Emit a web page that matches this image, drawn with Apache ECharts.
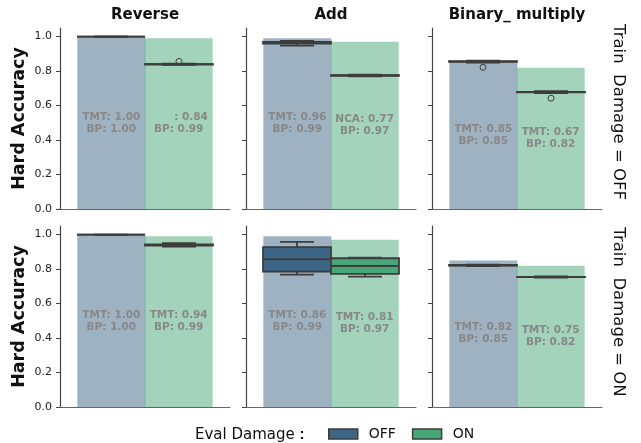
<!DOCTYPE html>
<html>
<head>
<meta charset="utf-8">
<script src="https://cdn.jsdelivr.net/npm/echarts@6/dist/echarts.min.js"></script>
<style>
html, body { margin: 0; padding: 0; background: #fff; }
#main { width: 641px; height: 443px; }
</style>
</head>
<body>
<div id="main"></div>
<script>
// columns / rows
const tasks = ['Reverse', 'Add', 'Binary_ multiply'];
const trainDamage = ['OFF', 'ON'];
const evalDamage = ['OFF', 'ON'];

// bar heights = BP, [row][task]
const bpOff = [[1.00, 0.99, 0.85], [1.00, 0.99, 0.85]];
const bpOn = [[0.99, 0.97, 0.82], [0.99, 0.97, 0.82]];
// first line of the annotation
const tmtOff = [[1.00, 0.96, 0.85], [1.00, 0.86, 0.82]];
const tmtOn = [[0.84, 0.77, 0.67], [0.94, 0.81, 0.75]];
const nameOn = [[null, 'NCA', 'TMT'], ['TMT', 'TMT', 'TMT']]; // null = label hidden

// boxplot stats [low, q1, median, q3, high]
const boxOff = [
  [[1.0, 1.0, 1.0, 1.0, 1.0], [0.948, 0.96, 0.965, 0.97, 0.975], [0.85, 0.853, 0.855, 0.857, 0.86]],
  [[0.999, 1.0, 1.0, 1.0, 1.0], [0.768, 0.785, 0.857, 0.927, 0.958], [0.818, 0.82, 0.822, 0.824, 0.826]]
];
const boxOn = [
  [[0.836, 0.838, 0.84, 0.841, 0.843], [0.77, 0.772, 0.775, 0.777, 0.779], [0.673, 0.676, 0.678, 0.68, 0.683]],
  [[0.93, 0.937, 0.94, 0.943, 0.95], [0.756, 0.772, 0.818, 0.863, 0.866], [0.751, 0.753, 0.754, 0.755, 0.757]]
];
const outOff = [[[], [], [0.822]], [[], [], []]];
const outOn = [[[0.856], [], [0.643]], [[], [], []]];

const yTicks = [0, 0.2, 0.4, 0.6, 0.8, 1.0];

const colOff = '#3d6585';
const colOn = '#47a776';
const edge = '#3d3d3d';
const lefts = [60, 246, 432];
const tops = [28, 226];
const W = 170, H = 181;

function boxRender(params, api) {
  const side = api.value(6);
  const bw = api.size([1, 0])[0];
  const hw = 0.2 * bw;
  const cx = api.coord([0, 0])[0] + side * hw;
  const y = k => api.coord([0, api.value(k)])[1];
  const lo = y(1), q1 = y(2), md = y(3), q3 = y(4), hi = y(5);
  const ls = { stroke: edge, lineWidth: 1.8 };
  return {
    type: 'group',
    children: [
      { type: 'line', shape: { x1: cx, y1: q3, x2: cx, y2: hi }, style: ls },
      { type: 'line', shape: { x1: cx, y1: q1, x2: cx, y2: lo }, style: ls },
      { type: 'line', shape: { x1: cx - hw / 2, y1: hi, x2: cx + hw / 2, y2: hi }, style: ls },
      { type: 'line', shape: { x1: cx - hw / 2, y1: lo, x2: cx + hw / 2, y2: lo }, style: ls },
      { type: 'rect', shape: { x: cx - hw, y: q3, width: 2 * hw, height: q1 - q3 },
        style: { fill: side < 0 ? colOff : colOn, stroke: edge, lineWidth: 1.8 } },
      { type: 'line', shape: { x1: cx - hw, y1: md, x2: cx + hw, y2: md }, style: ls }
    ]
  };
}

function outRender(params, api) {
  const bw = api.size([1, 0])[0];
  const p = api.coord([0, api.value(1)]);
  return {
    type: 'circle',
    shape: { cx: p[0] + api.value(2) * 0.2 * bw, cy: p[1], r: 3 },
    style: { fill: 'none', stroke: edge, lineWidth: 1 }
  };
}

const grid = [], xAxis = [], yAxis = [], series = [], graphic = [];
const labelStyle = {
  show: true, position: 'inside', color: '#888', fontWeight: 'bold', fontSize: 10.5,
  lineHeight: 12, fontFamily: 'DejaVu Sans',
  rich: { h: { color: 'rgba(0,0,0,0)', fontWeight: 'bold', fontSize: 10.5, lineHeight: 12 } }
};

trainDamage.forEach((td, r) => {
  tasks.forEach((task, c) => {
    const i = r * 3 + c;
    grid.push({ left: lefts[c], top: tops[r], width: W, height: H });
    xAxis.push({
      gridIndex: i, type: 'category', data: [''],
      axisLine: { lineStyle: { color: '#666', width: 1.2 } },
      axisTick: { alignWithLabel: true, length: 4, lineStyle: { color: '#444' } },
      axisLabel: { show: false }
    });
    yAxis.push({
      gridIndex: i, type: 'value', min: 0, max: 1.05,
      axisLine: { show: true, lineStyle: { color: '#444', width: 1.2 } },
      axisTick: { show: true, length: 4, customValues: yTicks, lineStyle: { color: '#444' } },
      axisLabel: { show: c === 0, customValues: yTicks, formatter: v => v.toFixed(1),
        fontSize: 11, color: '#222', margin: 8 },
      splitLine: { show: false },
      name: c === 0 ? 'Hard Accuracy' : '', nameLocation: 'middle', nameGap: 32,
      nameTextStyle: { fontSize: 17.5, fontWeight: 'bold', color: '#111' }
    });
    series.push({
      name: evalDamage[0], type: 'bar', xAxisIndex: i, yAxisIndex: i,
      data: [bpOff[r][c]], barWidth: '40%', barGap: '-1%',
      itemStyle: { color: 'rgba(61,101,133,0.5)' },
      label: Object.assign({}, labelStyle, {
        formatter: 'TMT: ' + tmtOff[r][c].toFixed(2) + '\nBP: ' + bpOff[r][c].toFixed(2)
      }),
      z: 1
    });
    const nm = nameOn[r][c];
    series.push({
      name: evalDamage[1], type: 'bar', xAxisIndex: i, yAxisIndex: i,
      data: [bpOn[r][c]], barWidth: '40%', barGap: '-1%',
      itemStyle: { color: 'rgba(71,167,118,0.5)' },
      label: Object.assign({}, labelStyle, {
        formatter: (nm === null ? '{h|TMT}' : nm) + ': ' + tmtOn[r][c].toFixed(2) +
          '\nBP: ' + bpOn[r][c].toFixed(2)
      }),
      z: 1
    });
    series.push({
      type: 'custom', xAxisIndex: i, yAxisIndex: i, renderItem: boxRender, z: 3,
      data: [[0].concat(boxOff[r][c], [-1]), [0].concat(boxOn[r][c], [1])],
      encode: { x: 0, y: [1, 2, 3, 4, 5] }, silent: true
    });
    const outs = outOff[r][c].map(v => [0, v, -1]).concat(outOn[r][c].map(v => [0, v, 1]));
    series.push({
      type: 'custom', xAxisIndex: i, yAxisIndex: i, renderItem: outRender, z: 4,
      data: outs, encode: { x: 0, y: 1 }, silent: true
    });
    if (r === 0) {
      graphic.push({
        type: 'text', x: lefts[c] + W / 2, y: 15,
        style: { text: task, fontSize: 15, fontWeight: 'bold', fill: '#111',
          align: 'center', verticalAlign: 'middle', fontFamily: 'DejaVu Sans' }
      });
    }
  });
  graphic.push({
    type: 'text', x: 618, y: [112, 312][r], rotation: -Math.PI / 2,
    style: { text: 'Train  Damage = ' + td, fontSize: 16.5, fill: '#111',
      align: 'center', verticalAlign: 'middle', fontFamily: 'DejaVu Sans' }
  });
});

graphic.push({
  type: 'text', x: 195, y: 435,
  style: { text: 'Eval Damage {b|:}', fontSize: 15, fill: '#111',
    align: 'left', verticalAlign: 'middle', fontFamily: 'DejaVu Sans',
    rich: { b: { fontSize: 15, fontWeight: 'bold', fill: '#111' } } }
});

const chart = echarts.init(document.getElementById('main'));
chart.setOption({
  animation: false,
  textStyle: { fontFamily: 'DejaVu Sans' },
  grid: grid,
  xAxis: xAxis,
  yAxis: yAxis,
  series: series,
  graphic: graphic,
  legend: {
    left: 328, top: 427, padding: 0, itemWidth: 29, itemHeight: 10, itemGap: 16,
    selectedMode: false,
    textStyle: { fontSize: 14, color: '#111', padding: [0, 0, 0, 6] },
    data: [
      { name: 'OFF', icon: 'rect', itemStyle: { color: colOff, borderColor: edge, borderWidth: 1.5 } },
      { name: 'ON', icon: 'rect', itemStyle: { color: colOn, borderColor: edge, borderWidth: 1.5 } }
    ]
  }
});
</script>
</body>
</html>
